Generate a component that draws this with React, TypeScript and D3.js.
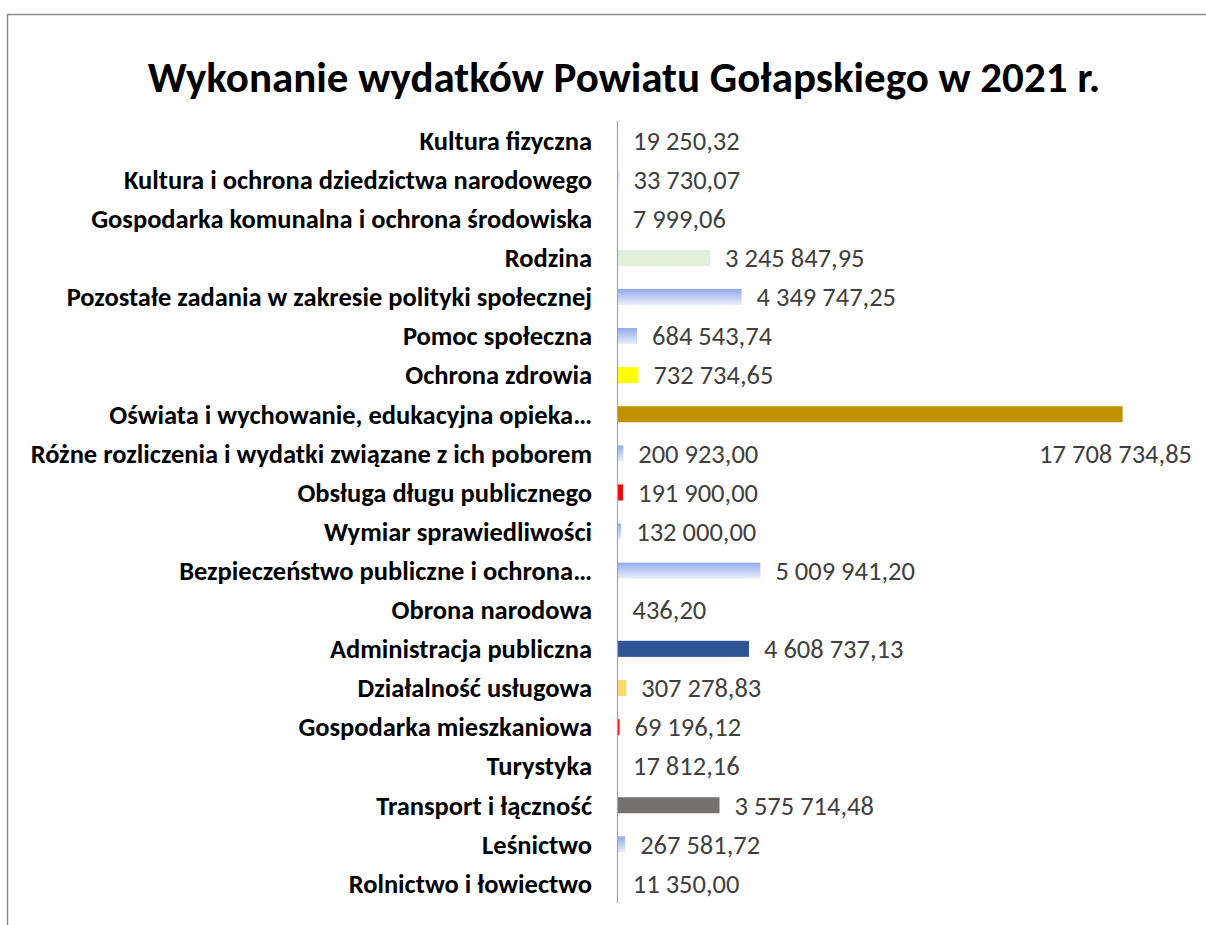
import React, { useEffect } from "react";
import * as d3 from "d3";

const categories: string[] = [
  "Kultura fizyczna",
  "Kultura i ochrona dziedzictwa narodowego",
  "Gospodarka komunalna i ochrona środowiska",
  "Rodzina",
  "Pozostałe zadania w zakresie polityki społecznej",
  "Pomoc społeczna",
  "Ochrona zdrowia",
  "Oświata i wychowanie, edukacyjna opieka…",
  "Różne rozliczenia i wydatki związane z ich poborem",
  "Obsługa długu publicznego",
  "Wymiar sprawiedliwości",
  "Bezpieczeństwo publiczne i ochrona…",
  "Obrona narodowa",
  "Administracja publiczna",
  "Działalność usługowa",
  "Gospodarka mieszkaniowa",
  "Turystyka",
  "Transport i łączność",
  "Leśnictwo",
  "Rolnictwo i łowiectwo",
];

const values: number[] = [
  19250.32, 33730.07, 7999.06, 3245847.95, 4349747.25, 684543.74, 732734.65,
  17708734.85, 200923.0, 191900.0, 132000.0, 5009941.2, 436.2, 4608737.13,
  307278.83, 69196.12, 17812.16, 3575714.48, 267581.72, 11350.0,
];

const barColors: string[] = [
  "url(#blueGrad)", "url(#blueGrad)", "url(#blueGrad)", "#E2EFDA", "url(#blueGrad)",
  "url(#blueGrad)", "#FFFF00", "#BF9000", "url(#blueGrad)", "#FF0000",
  "url(#blueGrad)", "url(#blueGrad)", "url(#blueGrad)", "#2F5597", "#FFD966",
  "#FF0000", "url(#blueGrad)", "#767171", "url(#blueGrad)", "url(#blueGrad)",
];

const title = "Wykonanie wydatków Powiatu Gołapskiego w 2021 r.";
const xDomainMax = 20000000;

const fmt = (v: number) => {
  const [i, d] = v.toFixed(2).split(".");
  return i.replace(/\B(?=(\d{3})+(?!\d))/g, "\u00a0") + "," + d;
};

const FONT = "Carlito, Calibri, 'Liberation Sans Narrow', 'Liberation Sans', Arial, sans-serif";

export default function App() {
  useEffect(() => {
    document.body.style.margin = "0";
  }, []);

  const W = 1206;
  const H = 925;
  const x = d3.scaleLinear().domain([0, xDomainMax]).range([617.5, 1188]);
  const y = d3
    .scaleBand<string>()
    .domain(categories)
    .range([121, 903])
    .paddingInner(0.59)
    .paddingOuter(0.295);
  const bw = y.bandwidth();
  const maxIdx = values.indexOf(d3.max(values) as number);

  return (
    <svg width={W} height={H} style={{ display: "block", background: "#fff" }}>
      <defs>
        <linearGradient id="blueGrad" x1="0" y1="0" x2="0" y2="1">
          <stop offset="0" stopColor="#93A9EA" />
          <stop offset="1" stopColor="#EAEFFB" />
        </linearGradient>
      </defs>
      <rect x={7.5} y={14.5} width={1300} height={1000} fill="#fff" stroke="#8C8C8C" strokeWidth={1.5} />
      <text
        x={624}
        y={92}
        textAnchor="middle"
        fontFamily={FONT}
        fontWeight="bold"
        fontSize={43}
        fill="#000"
      >
        {title}
      </text>
      {categories.map((c, i) => {
        const yc = (y(c) as number) + bw / 2;
        return (
          <g key={c}>
            <text
              x={592}
              y={yc}
              dy="0.35em"
              textAnchor="end"
              fontFamily={FONT}
              fontWeight="bold"
              fontSize={26.5}
              fill="#000"
            >
              {c}
            </text>
            <rect
              x={x(0)}
              y={y(c) as number}
              width={Math.max(0, x(values[i]) - x(0))}
              height={bw}
              fill={barColors[i]}
            />
          </g>
        );
      })}
      {categories.map((c, i) => {
        const isMax = i === maxIdx;
        const yc = (y(isMax ? categories[i + 1] : c) as number) + bw / 2;
        return (
          <text
            key={"v" + c}
            x={isMax ? x(xDomainMax) + 4 : x(values[i]) + 15}
            y={yc}
            dy="0.35em"
            textAnchor={isMax ? "end" : "start"}
            fontFamily={FONT}
            fontSize={26.5}
            fill="#404040"
          >
            {fmt(values[i])}
          </text>
        );
      })}
      <line x1={617.5} x2={617.5} y1={121} y2={903} stroke="#A6A6A6" strokeWidth={1.2} />
    </svg>
  );
}
